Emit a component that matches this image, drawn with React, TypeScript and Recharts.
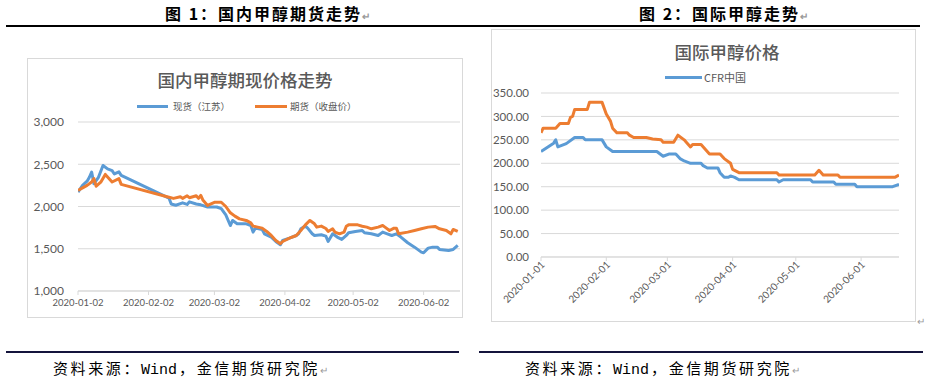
import React from 'react';
import { LineChart, Line, XAxis, YAxis, CartesianGrid } from 'recharts';

// 图1：国内甲醇 现货（江苏）
const spotDates = [
  '2020-01-02', '2020-01-04', '2020-01-06', '2020-01-07', '2020-01-08', '2020-01-09', '2020-01-11',
  '2020-01-13', '2020-01-15', '2020-01-17', '2020-01-18', '2020-01-20', '2020-01-21', '2020-02-11',
  '2020-02-12', '2020-02-14', '2020-02-17', '2020-02-19', '2020-02-20', '2020-02-23', '2020-02-25',
  '2020-02-28', '2020-03-03', '2020-03-05', '2020-03-07', '2020-03-09', '2020-03-10', '2020-03-12',
  '2020-03-16', '2020-03-18', '2020-03-19', '2020-03-20', '2020-03-23', '2020-03-24', '2020-03-27',
  '2020-03-29', '2020-03-31', '2020-04-01', '2020-04-04', '2020-04-07', '2020-04-08', '2020-04-09',
  '2020-04-11', '2020-04-12', '2020-04-14', '2020-04-15', '2020-04-18', '2020-04-20', '2020-04-21',
  '2020-04-23', '2020-04-25', '2020-04-27', '2020-04-29', '2020-04-30', '2020-05-03', '2020-05-06',
  '2020-05-07', '2020-05-10', '2020-05-13', '2020-05-15', '2020-05-17', '2020-05-19', '2020-05-21',
  '2020-05-23', '2020-05-26', '2020-05-29', '2020-06-01', '2020-06-02', '2020-06-04', '2020-06-06',
  '2020-06-08', '2020-06-09', '2020-06-13', '2020-06-15', '2020-06-17',
];
const spotPrices = [
  2171, 2250, 2300, 2346, 2408, 2270, 2346,
  2485, 2445, 2425, 2385, 2410, 2369, 2100,
  2030, 2015, 2043, 2025, 2055, 2030, 2020,
  1994, 1994, 1974, 1900, 1775, 1835, 1795,
  1795, 1775, 1697, 1744, 1728, 1677, 1637,
  1586, 1547, 1598, 1626, 1657, 1677, 1736,
  1768, 1744, 1677, 1657, 1665, 1650, 1586,
  1677, 1638, 1610, 1657, 1689, 1705, 1716,
  1689, 1677, 1657, 1697, 1677, 1657, 1677,
  1638, 1571, 1519, 1460, 1452, 1507, 1519,
  1519, 1492, 1480, 1492, 1539,
];

// 期货（收盘价）
const futuresDates = [
  '2020-01-02', '2020-01-06', '2020-01-08', '2020-01-09', '2020-01-10', '2020-01-12', '2020-01-14',
  '2020-01-17', '2020-01-20', '2020-01-21', '2020-02-11', '2020-02-13', '2020-02-16', '2020-02-17',
  '2020-02-19', '2020-02-20', '2020-02-23', '2020-02-24', '2020-02-25', '2020-02-26', '2020-02-28',
  '2020-03-02', '2020-03-05', '2020-03-07', '2020-03-09', '2020-03-11', '2020-03-13', '2020-03-16',
  '2020-03-18', '2020-03-19', '2020-03-21', '2020-03-23', '2020-03-25', '2020-03-27', '2020-03-29',
  '2020-03-31', '2020-04-01', '2020-04-04', '2020-04-07', '2020-04-09', '2020-04-11', '2020-04-13',
  '2020-04-15', '2020-04-16', '2020-04-18', '2020-04-20', '2020-04-21', '2020-04-23', '2020-04-24',
  '2020-04-26', '2020-04-28', '2020-04-29', '2020-04-30', '2020-05-04', '2020-05-06', '2020-05-08',
  '2020-05-10', '2020-05-13', '2020-05-15', '2020-05-16', '2020-05-18', '2020-05-20', '2020-05-21',
  '2020-05-22', '2020-05-26', '2020-05-29', '2020-06-01', '2020-06-04', '2020-06-07', '2020-06-09',
  '2020-06-12', '2020-06-14', '2020-06-15', '2020-06-17',
];
const futuresPrices = [
  2191, 2250, 2290, 2330, 2240, 2288, 2380,
  2290, 2330, 2262, 2110, 2096, 2115, 2096,
  2127, 2104, 2127, 2096, 2132, 2073, 2013,
  2050, 2050, 2000, 1925, 1886, 1854, 1835,
  1807, 1768, 1756, 1744, 1705, 1657, 1598,
  1559, 1586, 1626, 1657, 1716, 1783, 1835,
  1795, 1756, 1768, 1740, 1705, 1736, 1697,
  1677, 1697, 1767, 1783, 1783, 1767, 1756,
  1736, 1756, 1775, 1756, 1716, 1744, 1744,
  1677, 1697, 1716, 1736, 1756, 1764, 1736,
  1716, 1677, 1728, 1705,
];

const domesticTickDates = ['2020-01-02', '2020-02-02', '2020-03-02', '2020-04-02', '2020-05-02', '2020-06-02'];
const domesticYTicks = [1000, 1500, 2000, 2500, 3000];

// 图2：国际甲醇 CFR中国
const cfrChinaDates = [
  '2020-01-01', '2020-01-07', '2020-01-08', '2020-01-09', '2020-01-13', '2020-01-17', '2020-01-21',
  '2020-01-22', '2020-01-30', '2020-02-01', '2020-02-04', '2020-02-25', '2020-02-28', '2020-03-02',
  '2020-03-05', '2020-03-07', '2020-03-09', '2020-03-12', '2020-03-17', '2020-03-18', '2020-03-20',
  '2020-03-25', '2020-03-26', '2020-03-28', '2020-03-30', '2020-03-31', '2020-04-02', '2020-04-04',
  '2020-04-22', '2020-04-23', '2020-04-25', '2020-05-08', '2020-05-09', '2020-05-19', '2020-05-20',
  '2020-05-29', '2020-05-30', '2020-06-16', '2020-06-19',
];
const cfrChinaPrices = [
  225, 243, 250, 235, 242, 255, 255,
  250, 250, 235, 225, 225, 215, 220,
  220, 210, 205, 200, 200, 195, 190,
  190, 180, 170, 170, 173, 170, 165,
  165, 160, 165, 165, 160, 160, 155,
  155, 150, 150, 155,
];

// 第二条（橙色）序列，图例中未列出
const seAsiaDates = [
  '2020-01-01', '2020-01-02', '2020-01-08', '2020-01-10', '2020-01-14', '2020-01-15', '2020-01-16',
  '2020-01-17', '2020-01-23', '2020-01-24', '2020-01-30', '2020-02-01', '2020-02-03', '2020-02-04',
  '2020-02-06', '2020-02-11', '2020-02-12', '2020-02-14', '2020-02-20', '2020-02-23', '2020-02-27',
  '2020-02-28', '2020-03-04', '2020-03-06', '2020-03-09', '2020-03-10', '2020-03-12', '2020-03-13',
  '2020-03-17', '2020-03-19', '2020-03-21', '2020-03-26', '2020-03-28', '2020-03-31', '2020-04-01',
  '2020-04-04', '2020-04-22', '2020-04-23', '2020-05-10', '2020-05-12', '2020-05-14', '2020-05-21',
  '2020-05-22', '2020-06-17', '2020-06-19',
];
const seAsiaPrices = [
  265, 275, 275, 285, 285, 298, 300,
  315, 315, 330, 330, 305, 290, 275,
  265, 265, 260, 255, 255, 252, 250,
  245, 245, 260, 250, 245, 235, 240,
  240, 230, 220, 220, 210, 200, 187,
  180, 180, 175, 175, 185, 175, 175,
  170, 170, 175,
];

const intlTickDates = ['2020-01-01', '2020-02-01', '2020-03-01', '2020-04-01', '2020-05-01', '2020-06-01'];
const intlYTicks = [0, 50, 100, 150, 200, 250, 300, 350];

const BLUE = '#5B9BD5';
const ORANGE = '#ED7D31';
const GRID = '#d9d9d9';
const TEXT = '#595959';
const CJK = '"Noto Sans CJK SC", sans-serif';
const NUM = 'Lato, "Noto Sans", sans-serif';

const DAY_MS = 86400000;
const DOMESTIC_BASE = '2020-01-02';
const INTL_BASE = '2020-01-01';
const toDay = (d: string, base: string) => Math.round((Date.parse(d) - Date.parse(base)) / DAY_MS);
const fromDay = (n: number, base: string) => new Date(Date.parse(base) + n * DAY_MS).toISOString().slice(0, 10);
const series = (dates: string[], prices: number[], base: string) =>
  dates.map((d, i) => ({ x: toDay(d, base), v: prices[i] }));

const spotData = series(spotDates, spotPrices, DOMESTIC_BASE);
const futuresData = series(futuresDates, futuresPrices, DOMESTIC_BASE);
const cfrData = series(cfrChinaDates, cfrChinaPrices, INTL_BASE);
const seaData = series(seAsiaDates, seAsiaPrices, INTL_BASE);

function SlantTick({ x, y, payload }: any) {
  const ax = x + 2;
  return (
    <text x={ax} y={y} dy="0.35em" textAnchor="end" transform={`rotate(-45 ${ax} ${y})`}
      fill={TEXT} fontSize={10} fontFamily={NUM}>
      {fromDay(payload.value, INTL_BASE)}
    </text>
  );
}

const abs = (left: number, top: number, extra: React.CSSProperties = {}): React.CSSProperties => ({
  position: 'absolute', left, top, ...extra,
});

const mark = { color: '#9a9a9a', fontSize: 10, letterSpacing: 0 };
const mono = { fontFamily: '"Liberation Mono", monospace', letterSpacing: 0, marginRight: 2 };

export default function App() {
  return (
    <div style={{ position: 'absolute', left: 0, top: 0, width: 928, height: 390, background: '#fff', overflow: 'hidden', fontFamily: CJK }}>
      {/* headings */}
      <div style={abs(165, 2, { fontSize: 16, fontWeight: 'bold', letterSpacing: 2, whiteSpace: 'nowrap', color: '#000', lineHeight: '22px' })}>
        图 1：国内甲醇期货走势<span style={mark}>↵</span>
      </div>
      <div style={abs(639, 2, { fontSize: 16, fontWeight: 'bold', letterSpacing: 2, whiteSpace: 'nowrap', color: '#000', lineHeight: '22px' })}>
        图 2：国际甲醇走势<span style={mark}>↵</span>
      </div>
      <div style={abs(6, 25, { width: 914, height: 1.5, background: '#000' })} />

      {/* left chart */}
      <div style={abs(27, 58, { width: 436, height: 260, border: `1px solid ${GRID}`, boxSizing: 'border-box' })} />
      <div style={abs(27, 69, { width: 436, textAlign: 'center', fontSize: 17.5, fontWeight: 500, color: TEXT, lineHeight: '22px' })}>
        国内甲醇期现价格走势
      </div>
      <div style={abs(137, 99, { display: 'flex', alignItems: 'center', fontSize: 9.5, color: TEXT, whiteSpace: 'nowrap', lineHeight: '14px' })}>
        <span style={{ width: 31, height: 3, background: BLUE, marginRight: 5 }} />
        <span>现货（江苏）</span>
        <span style={{ width: 32, height: 3, background: ORANGE, marginLeft: 25, marginRight: 3 }} />
        <span>期货（收盘价）</span>
      </div>
      <div style={abs(27, 58)}>
        <LineChart width={436} height={260} margin={{ top: 64, right: 3, bottom: 2, left: 0 }}>
          <CartesianGrid vertical={false} stroke={GRID} />
          <XAxis type="number" dataKey="x" domain={[0, 168]} allowDataOverflow
            ticks={domesticTickDates.map((d) => toDay(d, DOMESTIC_BASE))}
            tickFormatter={(v: number) => fromDay(v, DOMESTIC_BASE)}
            height={25} stroke={GRID} tickSize={4} tickMargin={4}
            tick={{ fill: TEXT, fontSize: 9.5, fontFamily: NUM }} />
          <YAxis type="number" domain={[1000, 3000]} ticks={domesticYTicks} width={51}
            axisLine={false} tickLine={false} tickMargin={8}
            tickFormatter={(v: number) => v.toLocaleString('en-US')}
            tick={{ fill: TEXT, fontSize: 12, fontFamily: NUM }} />
          <Line data={spotData} dataKey="v" stroke={BLUE} strokeWidth={3} dot={false} isAnimationActive={false} strokeLinejoin="round" />
          <Line data={futuresData} dataKey="v" stroke={ORANGE} strokeWidth={3} dot={false} isAnimationActive={false} strokeLinejoin="round" />
        </LineChart>
      </div>

      {/* right chart */}
      <div style={abs(491, 29, { width: 425, height: 293, border: `1px solid ${GRID}`, boxSizing: 'border-box' })} />
      <div style={abs(627, 41, { width: 200, textAlign: 'center', fontSize: 17.5, fontWeight: 500, color: TEXT, lineHeight: '22px' })}>
        国际甲醇价格
      </div>
      <div style={abs(665, 70, { display: 'flex', alignItems: 'center', fontSize: 11, color: TEXT, whiteSpace: 'nowrap', lineHeight: '14px' })}>
        <span style={{ width: 37, height: 3, background: BLUE, marginRight: 2 }} />
        <span>CFR中国</span>
      </div>
      <div style={abs(491, 29)}>
        <LineChart width={425} height={293} margin={{ top: 64, right: 17, bottom: 5, left: 0 }}>
          <CartesianGrid vertical={false} stroke={GRID} />
          <XAxis type="number" dataKey="x" domain={[0, 170]} allowDataOverflow
            ticks={intlTickDates.map((d) => toDay(d, INTL_BASE))}
            height={60} stroke={GRID} tickSize={4} tickMargin={2}
            tick={<SlantTick />} />
          <YAxis type="number" domain={[0, 350]} ticks={intlYTicks} width={50}
            axisLine={false} tickLine={false} tickMargin={6}
            tickFormatter={(v: number) => v.toFixed(2)}
            tick={{ fill: TEXT, fontSize: 11.5, fontFamily: NUM }} />
          <Line data={seaData} dataKey="v" stroke={ORANGE} strokeWidth={3} dot={false} isAnimationActive={false} strokeLinejoin="round" />
          <Line data={cfrData} dataKey="v" stroke={BLUE} strokeWidth={3} dot={false} isAnimationActive={false} strokeLinejoin="round" />
        </LineChart>
      </div>
      <div style={abs(917, 313, mark)}>↵</div>

      {/* sources */}
      <div style={abs(6, 351, { width: 453, height: 1.5, background: '#14143c' })} />
      <div style={abs(479, 351, { width: 444, height: 1.5, background: '#14143c' })} />
      <div style={abs(53, 358, { fontSize: 15, letterSpacing: 2.6, whiteSpace: 'nowrap', color: '#000', lineHeight: '20px' })}>
        资料来源：<span style={mono}>Wind</span>，金信期货研究院<span style={mark}>↵</span>
      </div>
      <div style={abs(525, 358, { fontSize: 15, letterSpacing: 2.6, whiteSpace: 'nowrap', color: '#000', lineHeight: '20px' })}>
        资料来源：<span style={mono}>Wind</span>，金信期货研究院<span style={mark}>↵</span>
      </div>
    </div>
  );
}
